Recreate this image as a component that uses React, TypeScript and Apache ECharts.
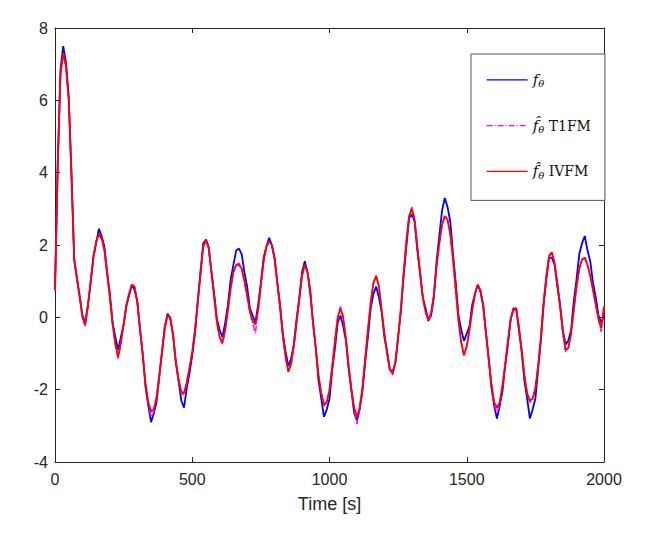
import React, { useEffect, useRef } from "react";
import * as echarts from "echarts";

// sample spacing of the series below, seconds
const STEP_S = 10;
const X_TICKS = [0, 500, 1000, 1500, 2000];
const Y_TICKS = [-4, -2, 0, 2, 4, 6, 8];

// f_theta (blue), sampled every 10 s from t = 0 to 2000
const F_THETA = [
  0.8, 4.3, 6.85, 7.5, 7.05, 6.1, 4.0, 1.6, 1.05, 0.55,
  0.05, -0.15, 0.35, 0.95, 1.7, 2.05, 2.45, 2.25, 1.95, 1.25,
  0.65, -0.15, -0.55, -0.9, -0.55, -0.2, 0.35, 0.6, 0.9, 0.75,
  0.45, -0.35, -1.05, -1.95, -2.45, -2.9, -2.65, -2.35, -1.65, -0.95,
  -0.25, 0.1, -0.05, -0.45, -1.25, -1.75, -2.3, -2.5, -1.95, -1.55,
  -1.05, -0.45, 0.45, 1.25, 2.05, 2.15, 1.95, 1.25, 0.65, -0.05,
  -0.35, -0.55, -0.15, 0.35, 1.05, 1.45, 1.85, 1.9, 1.75, 1.25,
  0.85, 0.25, 0.05, -0.15, 0.35, 0.95, 1.65, 1.95, 2.2, 2.0,
  1.65, 0.95, 0.35, -0.45, -0.95, -1.35, -1.15, -0.75, -0.05, 0.55,
  1.25, 1.55, 1.25, 0.75, -0.15, -0.85, -1.75, -2.25, -2.75, -2.55,
  -2.25, -1.45, -0.85, -0.15, 0.05, -0.25, -0.65, -1.45, -2.05, -2.65,
  -2.85, -2.55, -2.05, -1.25, -0.55, 0.25, 0.65, 0.85, 0.55, 0.15,
  -0.55, -0.95, -1.45, -1.5, -1.25, -0.55, 0.15, 1.15, 1.95, 2.75,
  2.85, 2.65, 1.85, 1.25, 0.55, 0.25, -0.1, 0.05, 0.55, 1.55,
  2.25, 2.95, 3.3, 3.05, 2.65, 1.75, 0.95, 0.05, -0.35, -0.65,
  -0.45, -0.25, 0.35, 0.65, 0.9, 0.7, 0.35, -0.45, -1.15, -1.95,
  -2.45, -2.8, -2.45, -2.05, -1.35, -0.75, -0.05, 0.2, 0.25, -0.35,
  -0.95, -1.75, -2.25, -2.8, -2.55, -2.25, -1.45, -0.65, 0.35, 1.05,
  1.65, 1.65, 1.45, 0.85, 0.35, -0.35, -0.75, -0.65, -0.35, 0.45,
  1.05, 1.75, 2.05, 2.25, 1.85, 1.55, 0.95, 0.55, 0.05, -0.15,
  0.05,
];

// estimated f_theta, T1FM (magenta dash-dot)
const T1FM = [
  0.75, 4.15, 6.75, 7.3, 6.9, 6.05, 3.95, 1.55, 1.1, 0.6,
  0.0, -0.25, 0.3, 1.0, 1.6, 2.1, 2.3, 2.15, 1.85, 1.2,
  0.55, -0.2, -0.75, -1.15, -0.7, -0.2, 0.3, 0.7, 0.9, 0.85,
  0.4, -0.35, -1.1, -1.9, -2.4, -2.75, -2.6, -2.25, -1.6, -0.95,
  -0.3, 0.05, 0.0, -0.5, -1.2, -1.75, -2.1, -2.15, -1.8, -1.4,
  -0.95, -0.35, 0.4, 1.2, 1.95, 2.15, 1.9, 1.25, 0.55, -0.15,
  -0.55, -0.75, -0.35, 0.2, 0.8, 1.25, 1.45, 1.5, 1.35, 1.0,
  0.6, 0.15, -0.15, -0.45, 0.2, 0.9, 1.55, 1.95, 2.1, 2.0,
  1.6, 0.95, 0.25, -0.5, -1.1, -1.5, -1.3, -0.8, -0.15, 0.5,
  1.15, 1.45, 1.25, 0.65, -0.15, -0.85, -1.6, -2.1, -2.45, -2.35,
  -2.0, -1.35, -0.65, 0.0, 0.3, 0.0, -0.6, -1.35, -2.0, -2.55,
  -2.95, -2.5, -1.95, -1.15, -0.35, 0.4, 0.95, 1.15, 0.85, 0.2,
  -0.45, -1.0, -1.45, -1.6, -1.25, -0.55, 0.25, 1.2, 2.1, 2.8,
  3.05, 2.7, 1.95, 1.2, 0.55, 0.15, -0.1, 0.1, 0.6, 1.4,
  2.05, 2.55, 2.8, 2.7, 2.3, 1.6, 0.75, -0.1, -0.7, -1.05,
  -0.8, -0.35, 0.2, 0.65, 0.9, 0.75, 0.3, -0.4, -1.15, -1.85,
  -2.4, -2.65, -2.4, -1.9, -1.3, -0.65, -0.05, 0.25, 0.25, -0.25,
  -0.9, -1.6, -2.1, -2.35, -2.3, -1.95, -1.35, -0.55, 0.4, 1.15,
  1.7, 1.8, 1.5, 0.95, 0.3, -0.4, -0.95, -0.85, -0.45, 0.2,
  0.85, 1.35, 1.6, 1.65, 1.45, 1.15, 0.75, 0.35, -0.05, -0.4,
  0.25,
];

// estimated f_theta, IVFM (red)
const IVFM = [
  0.75, 4.2, 6.7, 7.3, 6.95, 6.0, 3.9, 1.6, 1.1, 0.6,
  0.0, -0.2, 0.3, 1.0, 1.65, 2.1, 2.3, 2.2, 1.85, 1.2,
  0.55, -0.2, -0.75, -1.1, -0.7, -0.2, 0.3, 0.65, 0.9, 0.85,
  0.4, -0.35, -1.05, -1.85, -2.35, -2.6, -2.55, -2.2, -1.6, -0.95,
  -0.3, 0.05, 0.0, -0.5, -1.2, -1.7, -2.05, -2.1, -1.8, -1.4,
  -0.95, -0.35, 0.4, 1.2, 1.95, 2.15, 1.9, 1.25, 0.55, -0.15,
  -0.55, -0.7, -0.35, 0.2, 0.8, 1.25, 1.45, 1.45, 1.35, 1.0,
  0.6, 0.15, -0.1, -0.2, 0.2, 0.9, 1.55, 1.95, 2.1, 2.0,
  1.6, 0.95, 0.25, -0.5, -1.1, -1.5, -1.3, -0.8, -0.15, 0.5,
  1.15, 1.45, 1.25, 0.65, -0.15, -0.85, -1.6, -2.1, -2.4, -2.35,
  -2.0, -1.35, -0.65, 0.0, 0.25, 0.0, -0.6, -1.35, -2.0, -2.5,
  -2.75, -2.5, -1.95, -1.15, -0.35, 0.4, 0.95, 1.15, 0.85, 0.2,
  -0.45, -1.0, -1.45, -1.55, -1.25, -0.55, 0.25, 1.2, 2.1, 2.8,
  3.0, 2.7, 1.95, 1.2, 0.55, 0.15, -0.05, 0.1, 0.6, 1.4,
  2.05, 2.55, 2.8, 2.7, 2.3, 1.6, 0.75, -0.1, -0.7, -1.05,
  -0.8, -0.35, 0.2, 0.65, 0.9, 0.75, 0.3, -0.4, -1.15, -1.85,
  -2.35, -2.5, -2.35, -1.9, -1.3, -0.65, -0.05, 0.25, 0.25, -0.25,
  -0.9, -1.6, -2.1, -2.3, -2.25, -1.95, -1.35, -0.55, 0.4, 1.15,
  1.7, 1.8, 1.5, 0.95, 0.3, -0.4, -0.9, -0.85, -0.45, 0.2,
  0.85, 1.35, 1.6, 1.65, 1.45, 1.15, 0.75, 0.35, -0.05, -0.3,
  0.3,
];

const toPairs = (vals: number[]) => vals.map((v, i) => [i * STEP_S, v]);

const SANS = "'Liberation Sans', Arial, Helvetica, sans-serif";
const SERIF = "'DejaVu Serif', 'Liberation Serif', serif";
const AXIS_COLOR = "#262626";

const LEGEND_LABELS: Record<string, string> = {
  f: "{i|f}{s|θ}",
  T1FM: "{i|f\u0302}{s|θ}{t| T1FM}",
  IVFM: "{i|f\u0302}{s|θ}{t| IVFM}",
};

export default function App() {
  const ref = useRef<HTMLDivElement>(null);

  useEffect(() => {
    if (!ref.current) return;
    const chart = echarts.init(ref.current, undefined, { renderer: "svg" });

    const baseAxis = {
      axisLine: { show: true, onZero: false, lineStyle: { color: AXIS_COLOR, width: 1 } },
      axisTick: { show: true, inside: true, length: 5, lineStyle: { color: AXIS_COLOR } },
      splitLine: { show: false },
    };

    chart.setOption({
      animation: false,
      backgroundColor: "#ffffff",
      grid: { left: 55, top: 28, right: 47, bottom: 73, containLabel: false },
      xAxis: [
        {
          ...baseAxis,
          type: "value",
          min: X_TICKS[0],
          max: X_TICKS[X_TICKS.length - 1],
          interval: 500,
          position: "bottom",
          name: "Time [s]",
          nameLocation: "middle",
          nameGap: 33,
          nameTextStyle: { fontFamily: SANS, fontSize: 18, color: AXIS_COLOR },
          axisLabel: {
            fontFamily: SANS,
            fontSize: 16,
            color: AXIS_COLOR,
            margin: 9,
            formatter: (v: number) => String(v),
          },
        },
        {
          ...baseAxis,
          type: "value",
          min: X_TICKS[0],
          max: X_TICKS[X_TICKS.length - 1],
          interval: 500,
          position: "top",
          axisLabel: { show: false },
        },
      ],
      yAxis: [
        {
          ...baseAxis,
          type: "value",
          min: Y_TICKS[0],
          max: Y_TICKS[Y_TICKS.length - 1],
          interval: 2,
          position: "left",
          axisLabel: {
            fontFamily: SANS,
            fontSize: 16,
            color: AXIS_COLOR,
            margin: 7,
            formatter: (v: number) => String(v),
          },
        },
        {
          ...baseAxis,
          type: "value",
          min: Y_TICKS[0],
          max: Y_TICKS[Y_TICKS.length - 1],
          interval: 2,
          position: "right",
          axisLabel: { show: false },
        },
      ],
      legend: {
        orient: "vertical",
        left: 471,
        top: 54,
        width: 138,
        padding: [17, 14, 20, 15],
        itemGap: 28,
        itemWidth: 41,
        itemHeight: 22,
        backgroundColor: "#ffffff",
        borderColor: "#555555",
        borderWidth: 1,
        borderRadius: 0,
        itemStyle: { opacity: 0 },
        lineStyle: { width: 1.3 },
        data: ["f", "T1FM", "IVFM"],
        formatter: (name: string) => LEGEND_LABELS[name],
        textStyle: {
          fontFamily: SERIF,
          fontSize: 14,
          color: "#111111",
          rich: {
            i: { fontFamily: SERIF, fontStyle: "italic", fontSize: 15, color: "#111111" },
            s: {
              fontFamily: SERIF,
              fontStyle: "italic",
              fontSize: 10,
              color: "#111111",
              padding: [8, 0, 0, 0],
            },
            t: { fontFamily: SERIF, fontSize: 14, color: "#111111" },
          },
        },
      },
      series: [
        {
          name: "f",
          type: "line",
          data: toPairs(F_THETA),
          showSymbol: false,
          symbol: "none",
          symbolSize: 0,
          color: "#0000ff",
          lineStyle: { color: "#0000ff", width: 1.8 },
        },
        {
          name: "T1FM",
          type: "line",
          data: toPairs(T1FM),
          showSymbol: false,
          symbol: "none",
          symbolSize: 0,
          color: "#ff00ff",
          lineStyle: { color: "#ff00ff", width: 1.5, type: [6, 2, 1, 2] },
        },
        {
          name: "IVFM",
          type: "line",
          data: toPairs(IVFM),
          showSymbol: false,
          symbol: "none",
          symbolSize: 0,
          color: "#ff0000",
          lineStyle: { color: "#ff0000", width: 1.8 },
        },
      ],
    });

    return () => chart.dispose();
  }, []);

  return <div ref={ref} style={{ width: 651, height: 535, position: "absolute", left: 0, top: 0 }} />;
}
